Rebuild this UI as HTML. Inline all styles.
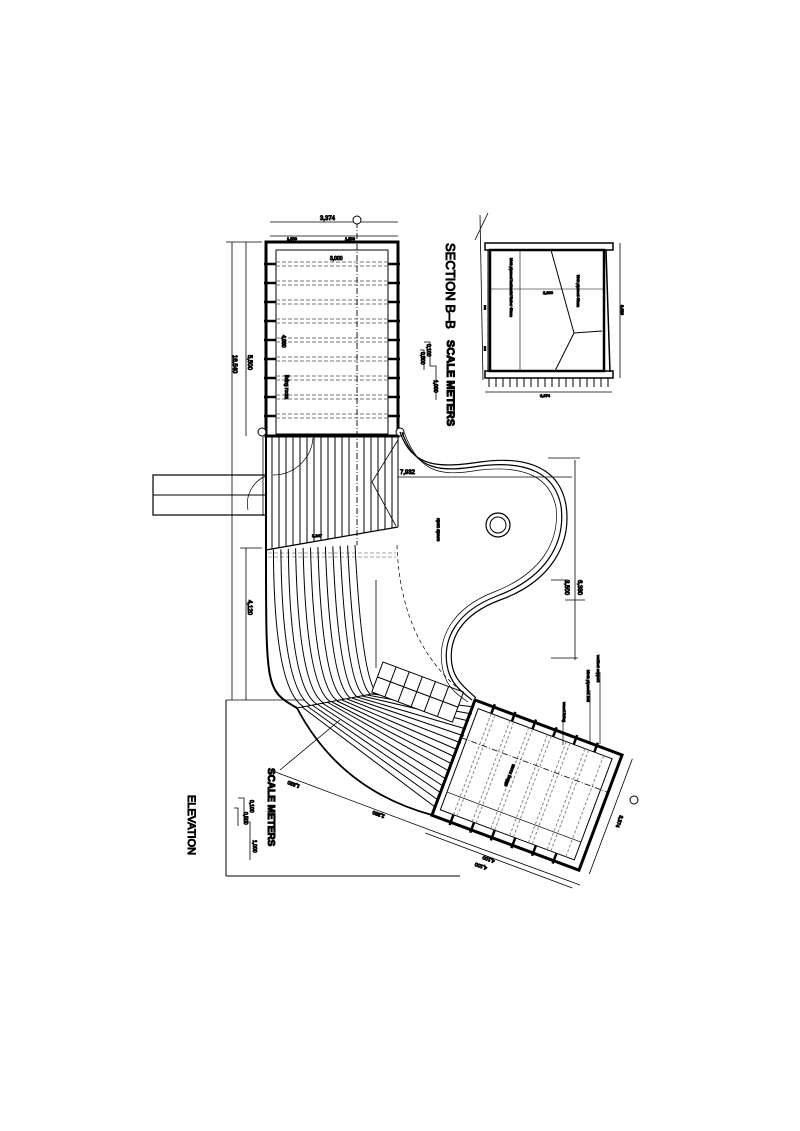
<!DOCTYPE html>
<html><head><meta charset="utf-8"><style>
html,body{margin:0;padding:0;background:#fff}
svg{display:block}
text{font-family:"Liberation Sans",sans-serif;fill:#000}
</style></head><body>
<svg width="800" height="1131" viewBox="0 0 800 1131" xmlns="http://www.w3.org/2000/svg" stroke="#000" fill="none">
<!-- left bar -->
<rect x="153" y="475" width="113" height="40" stroke-width="1.2"/>
<line x1="153" y1="495" x2="266" y2="495"/>
<path d="M266,476 A30,30 0 0 0 248,510" stroke-width=".7"/>
<!-- dim lines left -->
<g stroke-width=".8">
<line x1="232" y1="242" x2="232" y2="700"/>
<line x1="226" y1="242" x2="262" y2="242"/>
<line x1="246" y1="242" x2="246" y2="436"/>
<line x1="246" y1="548" x2="246" y2="700"/>
<line x1="240" y1="548" x2="262" y2="548"/>
<line x1="226" y1="700" x2="305" y2="700"/>
<line x1="263" y1="436" x2="263" y2="516"/>
<line x1="376" y1="580" x2="376" y2="668"/>
<line x1="270" y1="222" x2="398" y2="222"/>
<line x1="270" y1="236" x2="398" y2="236"/>
</g>
<text x="233" y="355" font-size="6" transform="rotate(90 233 355)">16,540</text>
<text x="248" y="355" font-size="6" transform="rotate(90 248 355)">5,500</text>
<text x="248" y="600" font-size="6" transform="rotate(90 248 600)">4,120</text>
<text x="320" y="220" font-size="6">3,374</text>
<text x="287" y="240" font-size="4">1,500</text>
<text x="345" y="240" font-size="4">1,500</text>
<!-- elevation L -->
<line x1="226" y1="700" x2="226" y2="876" stroke-width="1"/>
<line x1="226" y1="876" x2="460" y2="876" stroke-width="1"/>
<text x="188" y="795" font-size="11" transform="rotate(90 188 795)">ELEVATION</text>
<g stroke-width=".8"><path d="M238,798 H244 V822 H250 V860"/><path d="M234,808 H238 V826"/></g>
<text x="268" y="768" font-size="10" font-weight="bold" transform="rotate(90 268 768)">SCALE METERS</text>
<text x="250" y="800" font-size="5" transform="rotate(90 250 800)">0,100</text>
<text x="244" y="812" font-size="5" transform="rotate(90 244 812)">0,500</text>
<text x="253" y="840" font-size="5" transform="rotate(90 253 840)">1,000</text>
<!-- top room -->
<rect x="266" y="242" width="132" height="194" stroke-width="3"/>
<rect x="276" y="250" width="112" height="184" stroke-width="1"/>
<g stroke="#777" stroke-width="1" stroke-dasharray="4,2">
<line x1="276" y1="262" x2="388" y2="262"/><line x1="276" y1="266" x2="388" y2="266"/>
<line x1="276" y1="281" x2="388" y2="281"/><line x1="276" y1="285" x2="388" y2="285"/>
<line x1="276" y1="300" x2="388" y2="300"/><line x1="276" y1="304" x2="388" y2="304"/>
<line x1="276" y1="319" x2="388" y2="319"/><line x1="276" y1="323" x2="388" y2="323"/>
<line x1="276" y1="338" x2="388" y2="338"/><line x1="276" y1="342" x2="388" y2="342"/>
<line x1="276" y1="357" x2="388" y2="357"/><line x1="276" y1="361" x2="388" y2="361"/>
<line x1="276" y1="376" x2="388" y2="376"/><line x1="276" y1="380" x2="388" y2="380"/>
<line x1="276" y1="395" x2="388" y2="395"/><line x1="276" y1="399" x2="388" y2="399"/>
<line x1="276" y1="414" x2="388" y2="414"/><line x1="276" y1="418" x2="388" y2="418"/>
</g>
<g stroke-width="2.5">
<line x1="264" y1="264" x2="276" y2="264"/><line x1="264" y1="283" x2="276" y2="283"/><line x1="264" y1="302" x2="276" y2="302"/><line x1="264" y1="321" x2="276" y2="321"/><line x1="264" y1="340" x2="276" y2="340"/><line x1="264" y1="359" x2="276" y2="359"/><line x1="264" y1="378" x2="276" y2="378"/><line x1="264" y1="397" x2="276" y2="397"/><line x1="264" y1="416" x2="276" y2="416"/>
<line x1="388" y1="264" x2="400" y2="264"/><line x1="388" y1="283" x2="400" y2="283"/><line x1="388" y1="302" x2="400" y2="302"/><line x1="388" y1="321" x2="400" y2="321"/><line x1="388" y1="340" x2="400" y2="340"/><line x1="388" y1="359" x2="400" y2="359"/><line x1="388" y1="378" x2="400" y2="378"/><line x1="388" y1="397" x2="400" y2="397"/><line x1="388" y1="416" x2="400" y2="416"/>
</g>
<line x1="357" y1="222" x2="357" y2="545" stroke-dasharray="6,2,1,2" stroke-width=".9"/>
<text x="330" y="260" font-size="5">3,000</text>
<text x="282" y="335" font-size="5" transform="rotate(90 282 335)">4,880</text>
<text x="285" y="375" font-size="5" transform="rotate(90 285 375)">living room</text>
<g fill="#fff" stroke-width="1"><circle cx="357" cy="220" r="4"/><circle cx="262" cy="432" r="4"/><circle cx="400" cy="432" r="4"/></g>
<!-- deck -->
<line x1="266" y1="436" x2="266" y2="550" stroke-width="2"/>
<line x1="398" y1="436" x2="398" y2="527" stroke-width="1"/>
<line x1="266" y1="550" x2="398" y2="527" stroke-width="1.2"/>
<g stroke-width="1">
<line x1="272" y1="436" x2="272" y2="549"/><line x1="279" y1="436" x2="279" y2="548"/><line x1="286" y1="436" x2="286" y2="546"/><line x1="293" y1="436" x2="293" y2="545"/><line x1="300" y1="436" x2="300" y2="544"/><line x1="307" y1="436" x2="307" y2="543"/><line x1="314" y1="436" x2="314" y2="542"/><line x1="321" y1="436" x2="321" y2="540"/><line x1="328" y1="436" x2="328" y2="539"/><line x1="335" y1="436" x2="335" y2="538"/><line x1="342" y1="436" x2="342" y2="537"/><line x1="349" y1="436" x2="349" y2="536"/><line x1="364" y1="436" x2="364" y2="533"/><line x1="371" y1="436" x2="371" y2="532"/><line x1="378" y1="436" x2="378" y2="531"/><line x1="385" y1="436" x2="385" y2="529"/><line x1="392" y1="436" x2="392" y2="528"/>
</g>
<path d="M398,440 L372,482 L396,526" stroke-width=".8"/>
<path d="M313,438 A40,40 0 0 1 273,475" stroke-width=".7"/>
<line x1="398" y1="477" x2="572" y2="477" stroke-width=".8"/>
<text x="400" y="474" font-size="6">7,932</text>
<text x="312" y="537" font-size="4">2,247</text>
<g stroke="#888" stroke-dasharray="4,2" stroke-width=".8"><line x1="268" y1="553" x2="396" y2="553"/><line x1="268" y1="557" x2="396" y2="557"/></g>
<!-- curved deck -->
<g stroke-width="1">
<path d="M266,550 C266,690 266,690 297,708" stroke-width="2"/>
<path d="M273.4,549.6 Q274,689 303.6,706.8"/><path d="M280.9,549.2 Q282,688.3 310.4,705.5"/><path d="M288.3,548.8 Q290,687.5 317,704.3"/><path d="M295.6,548.3 Q298,686.7 323.6,703"/><path d="M303.1,547.9 Q306,685.8 330.4,701.7"/><path d="M310.5,547.5 Q314,685 337,700.5"/><path d="M317.9,547.1 Q322,684.2 343.6,699.3"/><path d="M325.4,546.7 Q330,683.3 350.4,698"/><path d="M332.8,546.3 Q338,682.5 357,696.8"/><path d="M340.1,545.8 Q346,681.7 363.6,695.5"/><path d="M347.6,545.4 Q354,680.8 370.4,694.2"/><path d="M355,545 Q362,680 377,693"/>
</g>
<path d="M397,545 Q400,640 460,690" stroke-dasharray="4,3" stroke-width=".7"/>
<line x1="297" y1="708" x2="377" y2="693" stroke-width="1"/>
<path d="M297,708 Q340,790 432,815" stroke-width="1.8"/>
<g stroke-width="1">
<line x1="302" y1="707" x2="435" y2="807"/><line x1="307" y1="706" x2="438" y2="800"/><line x1="312" y1="705" x2="441" y2="793"/><line x1="317" y1="704" x2="443" y2="786"/><line x1="322" y1="703" x2="446" y2="779"/><line x1="327" y1="702" x2="449" y2="771"/><line x1="332" y1="702" x2="452" y2="764"/><line x1="337" y1="701" x2="455" y2="757"/><line x1="342" y1="700" x2="458" y2="750"/><line x1="347" y1="699" x2="461" y2="743"/><line x1="352" y1="698" x2="464" y2="736"/><line x1="357" y1="697" x2="466" y2="729"/><line x1="362" y1="696" x2="469" y2="721"/><line x1="367" y1="695" x2="472" y2="714"/><line x1="372" y1="694" x2="474" y2="707"/>
</g>
<!-- stair -->
<g transform="translate(383,662) rotate(20.5)" stroke-width="1">
<rect x="0" y="0" width="86" height="32" fill="#fff"/>
<line x1="0" y1="16" x2="86" y2="16"/>
<line x1="14" y1="0" x2="14" y2="32"/><line x1="28" y1="0" x2="28" y2="32"/><line x1="42" y1="0" x2="42" y2="32"/><line x1="56" y1="0" x2="56" y2="32"/><line x1="70" y1="0" x2="70" y2="32"/>
</g>
<!-- S wall -->
<g stroke-width="1.2">
<path d="M400,432 C412,468 440,468 480,462 C530,455 560,470 566,505 C572,545 550,582 500,600 C460,615 448,640 452,665 C455,682 468,690 476,698"/>
<path d="M402,432 C416,472 442,472 480,466 C528,460 555,474 561,506 C566,544 545,578 497,596 C455,612 443,640 447,665 C450,684 462,692 472,700"/>
<path d="M404,432 C420,476 444,476 480,470 C526,465 550,478 556,507 C560,543 540,574 494,592 C450,609 438,640 442,665 C445,686 456,694 468,702" stroke-width=".7"/>
</g>
<circle cx="498" cy="525" r="12" stroke-width="1.2"/><circle cx="498" cy="525" r="8"/>
<text x="437" y="518" font-size="4.5" transform="rotate(90 437 518)">open space</text>
<g stroke-width=".8"><line x1="575" y1="460" x2="575" y2="660"/><line x1="565" y1="600" x2="585" y2="600"/><line x1="551" y1="580" x2="568" y2="580"/><line x1="551" y1="658" x2="578" y2="658"/><line x1="548" y1="458" x2="580" y2="458"/></g>
<text x="565" y="580" font-size="6" transform="rotate(90 565 580)">3,500</text>
<text x="578" y="580" font-size="6" transform="rotate(90 578 580)">6,380</text>
<!-- bottom room -->
<g transform="translate(475,700) rotate(20.5)">
<rect x="0" y="0" width="157" height="123" stroke-width="3"/>
<rect x="6" y="7" width="143" height="108" stroke-width="1"/>
<g stroke="#888" stroke-width="1" stroke-dasharray="3,2">
<line x1="20" y1="7" x2="20" y2="115"/><line x1="24" y1="7" x2="24" y2="115"/><line x1="40" y1="7" x2="40" y2="115"/><line x1="44" y1="7" x2="44" y2="115"/><line x1="60" y1="7" x2="60" y2="115"/><line x1="64" y1="7" x2="64" y2="115"/><line x1="80" y1="7" x2="80" y2="115"/><line x1="84" y1="7" x2="84" y2="115"/><line x1="100" y1="7" x2="100" y2="115"/><line x1="104" y1="7" x2="104" y2="115"/><line x1="120" y1="7" x2="120" y2="115"/><line x1="124" y1="7" x2="124" y2="115"/><line x1="140" y1="7" x2="140" y2="115"/>
</g>
<line x1="0" y1="40" x2="157" y2="40" stroke-dasharray="6,2,1,2" stroke-width=".8"/>
<line x1="6" y1="96" x2="149" y2="96" stroke-width=".7"/>
<g stroke-width="2.5"><line x1="20" y1="-3" x2="20" y2="7"/><line x1="42" y1="-3" x2="42" y2="7"/><line x1="64" y1="-3" x2="64" y2="7"/><line x1="86" y1="-3" x2="86" y2="7"/><line x1="108" y1="-3" x2="108" y2="7"/><line x1="130" y1="-3" x2="130" y2="7"/><line x1="20" y1="115" x2="20" y2="126"/><line x1="42" y1="115" x2="42" y2="126"/><line x1="64" y1="115" x2="64" y2="126"/><line x1="86" y1="115" x2="86" y2="126"/><line x1="108" y1="115" x2="108" y2="126"/><line x1="130" y1="115" x2="130" y2="126"/></g>
<line x1="0" y1="142" x2="157" y2="142" stroke-width=".8"/>
<line x1="168" y1="0" x2="168" y2="123" stroke-width=".8"/>
<text x="70" y="152" font-size="5" transform="rotate(180 70 152)">4,100</text>
<text x="60" y="70" font-size="4.5" transform="rotate(-90 60 70)">sitting room</text>
</g>
<text x="620" y="815" font-size="5" transform="rotate(110 620 815)">3,374</text>
<circle cx="634" cy="800" r="4" fill="#fff"/>
<g stroke-width=".7"><line x1="563" y1="745" x2="563" y2="705"/><line x1="590" y1="742" x2="590" y2="690"/><line x1="600" y1="744" x2="600" y2="672"/></g>
<text x="563" y="702" font-size="4" transform="rotate(90 563 702)">wood lining</text>
<text x="587" y="670" font-size="4" transform="rotate(90 587 670)">birch plywood 2x2</text>
<text x="597" y="655" font-size="4" transform="rotate(90 597 655)">vertical support</text>
<!-- diagonal dims bottom -->
<g stroke-width=".8"><line x1="270" y1="770" x2="430" y2="830"/><line x1="280" y1="770" x2="340" y2="720"/><line x1="430" y1="830" x2="580" y2="885"/></g>
<text x="300" y="785" font-size="5" transform="rotate(200 300 785)">1,920</text>
<text x="385" y="815" font-size="5" transform="rotate(200 385 815)">2,390</text>
<text x="495" y="860" font-size="5" transform="rotate(200 495 860)">4,100</text>
<!-- section B-B -->
<g stroke-width="1">
<rect x="485" y="243" width="128" height="7" stroke-width="1.5"/>
<rect x="485" y="371" width="128" height="7" stroke-width="1.5"/>
<rect x="490" y="250" width="114" height="121" stroke-width="2.5"/>
<line x1="606" y1="250" x2="610" y2="372" stroke-width="1.5"/>
<line x1="488" y1="250" x2="488" y2="372"/>
<path d="M551,250 L574,333 L602,331 M574,333 L555,371"/>
<line x1="490" y1="289" x2="604" y2="289" stroke-width=".6"/>
<line x1="520" y1="250" x2="520" y2="370" stroke-width=".6"/>
<path d="M480,215 L483,380 M475,240 L488,213" stroke-width=".8"/>
<line x1="485" y1="392" x2="612" y2="392" stroke-width=".8"/>
<line x1="620" y1="243" x2="620" y2="378" stroke-width=".8"/>
</g>
<g stroke-width="2.5"><line x1="485" y1="305" x2="485" y2="310"/><line x1="485" y1="346" x2="485" y2="351"/></g>
<g stroke-width="1"><line x1="489" y1="378" x2="489" y2="387"/><line x1="496" y1="378" x2="496" y2="387"/><line x1="503" y1="378" x2="503" y2="387"/><line x1="510" y1="378" x2="510" y2="387"/><line x1="517" y1="378" x2="517" y2="387"/><line x1="524" y1="378" x2="524" y2="387"/><line x1="531" y1="378" x2="531" y2="387"/><line x1="538" y1="378" x2="538" y2="387"/><line x1="545" y1="378" x2="545" y2="387"/><line x1="552" y1="378" x2="552" y2="387"/><line x1="559" y1="378" x2="559" y2="387"/><line x1="566" y1="378" x2="566" y2="387"/><line x1="573" y1="378" x2="573" y2="387"/><line x1="580" y1="378" x2="580" y2="387"/><line x1="587" y1="378" x2="587" y2="387"/><line x1="594" y1="378" x2="594" y2="387"/><line x1="601" y1="378" x2="601" y2="387"/><line x1="608" y1="378" x2="608" y2="387"/></g>
<text x="543" y="294" font-size="4">2,800</text>
<text x="540" y="397" font-size="4">3,374</text>
<text x="621" y="305" font-size="4" transform="rotate(90 621 305)">3,620</text>
<text x="510" y="258" font-size="3.5" transform="rotate(90 510 258)">birch plywood horizontal timber 40mm</text>
<text x="577" y="275" font-size="3.5" transform="rotate(90 577 275)">birch plywood 40mm</text>
<text x="446" y="243" font-size="13" transform="rotate(90 446 243)">SECTION  B–B</text>
<text x="447" y="340" font-size="11" font-weight="bold" transform="rotate(90 447 340)">SCALE METERS</text>
<g stroke-width=".8"><path d="M424,342 H430 V366 H436 V400"/><path d="M420,350 H424 V370"/></g>
<text x="427" y="344" font-size="5" transform="rotate(90 427 344)">0,100</text>
<text x="421" y="352" font-size="5" transform="rotate(90 421 352)">0,500</text>
<text x="434" y="380" font-size="5" transform="rotate(90 434 380)">1,000</text>
</svg>
</body></html>
